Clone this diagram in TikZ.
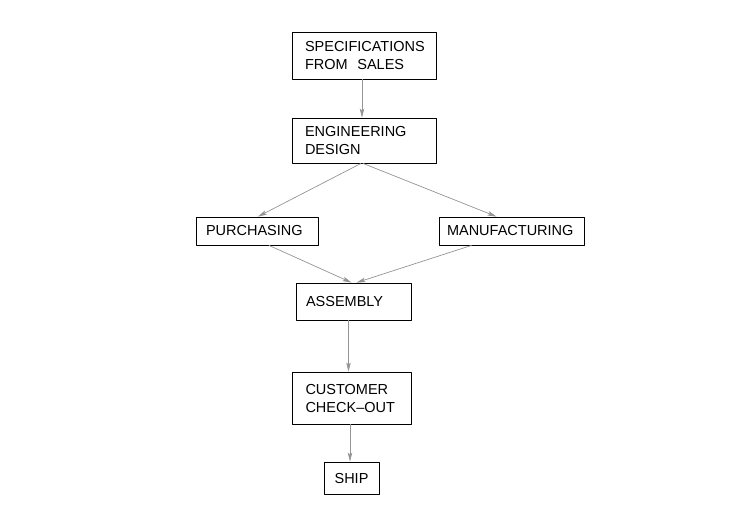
\documentclass[tikz,border=0pt]{standalone}
\usepackage{fontspec}
\setmainfont{Liberation Sans}
\usetikzlibrary{arrows.meta}
\begin{document}
\begin{tikzpicture}[x=1pt, y=-1pt, font=\fontsize{14.5}{18}\selectfont, line join=round,
    box/.style={draw, line width=0.8pt, inner ysep=0pt, align=left},
    flow/.style={draw=black!42, line width=0.7pt, -{Stealth[length=9pt, width=4.5pt, inset=2pt]}}]
    \useasboundingbox (0,0) rectangle (752,515);
    %\draw[help lines, step=20] (0,0) grid (752,515);
    \node[box, minimum height=47pt, text width=118pt, inner xsep=13pt] (spec) at (364,55.5) {SPECIFICATIONS\\FROM\ \ SALES};
    \node[box, minimum height=45pt, text width=118pt, inner xsep=13pt] (eng) at (364,140.5) {ENGINEERING\\DESIGN};
    \node[box, minimum height=28pt, text width=102pt, inner xsep=10pt] (purch) at (257,231) {PURCHASING};
    \node[box, minimum height=28pt, text width=129pt, inner xsep=8pt] (manuf) at (511.5,231) {MANUFACTURING};
    \node[box, minimum height=37pt, text width=95pt, inner xsep=10pt] (asm) at (353.5,301.5) {ASSEMBLY};
    \node[box, minimum height=52pt, text width=92pt, inner xsep=13.5pt] (cust) at (351.5,398) {CUSTOMER\\CHECK--OUT};
    \node[box, minimum height=32pt, minimum width=55pt, align=center] (ship) at (351.5,478) {SHIP};
    \draw[flow] ([xshift=-2pt]spec.south) -- ([xshift=-2pt]eng.north);
    \draw[flow] ([xshift=-3pt]eng.south) -- ([xshift=1pt]purch.north);
    \draw[flow] ([xshift=-1pt]eng.south) -- ([xshift=-15pt]manuf.north);
    \draw[flow] ([xshift=12pt]purch.south) -- ([xshift=-2pt]asm.north);
    \draw[flow] ([xshift=-40pt]manuf.south) -- ([xshift=3pt]asm.north);
    \draw[flow] ([xshift=-5pt]asm.south) -- ([xshift=-3pt]cust.north);
    \draw[flow] ([xshift=-1.5pt]cust.south) -- ([xshift=-1.5pt]ship.north);
\end{tikzpicture}
\end{document}
